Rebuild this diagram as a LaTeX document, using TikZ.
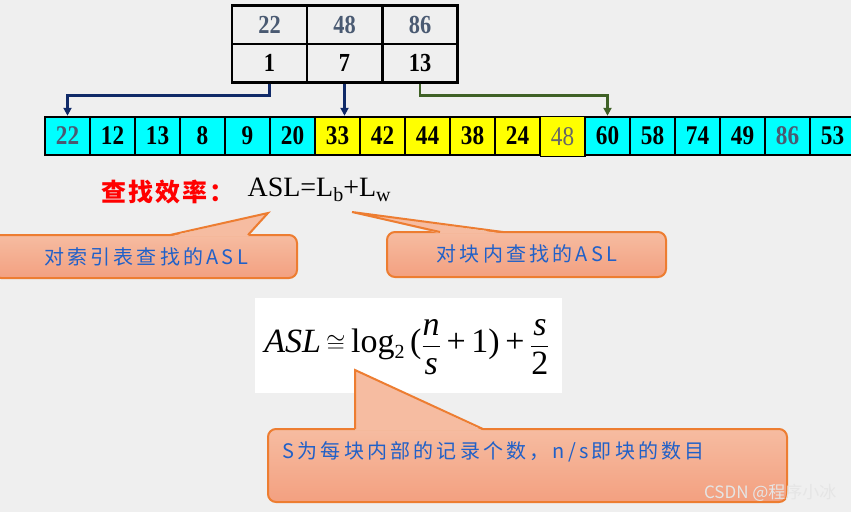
\documentclass[tikz,border=0pt]{standalone}
\usepackage{fontspec}
\setmainfont{Liberation Serif}
\newfontfamily\cjk{Noto Sans CJK SC}
\newfontfamily\cjkspaced[LetterSpace=16]{Noto Sans CJK SC}
\newfontfamily\cjkred[LetterSpace=8]{Noto Sans CJK SC}
\newfontfamily\numfont[FakeStretch=0.86]{Liberation Serif}
\usetikzlibrary{arrows.meta,calc}
\definecolor{bgc}{HTML}{EFEFEF}
\definecolor{cy}{HTML}{00FFFF}
\definecolor{ye}{HTML}{FFFF00}
\definecolor{slate}{HTML}{4A5A72}
\definecolor{grayt}{HTML}{666666}
\definecolor{navyl}{HTML}{102A68}
\definecolor{greenl}{HTML}{3F6126}
\definecolor{calltop}{HTML}{F6BCA1}
\definecolor{callbot}{HTML}{F3A080}
\definecolor{callline}{HTML}{ED7D31}
\definecolor{bluet}{HTML}{2060C8}
\definecolor{redt}{HTML}{FF0000}
\begin{document}
\begin{tikzpicture}[x=1pt,y=-1pt,
  cellbox/.style={draw, line width=2.5pt, minimum width=45, minimum height=38, inner sep=0pt,
    font=\numfont\fontsize{27}{27}\selectfont\bfseries},
  idxbox/.style={draw, line width=2.5pt, minimum width=75, minimum height=38.5, inner sep=0pt,
    font=\numfont\fontsize{26}{26}\selectfont\bfseries},
  callbox/.style={rounded corners=8pt, draw=callline, line width=2pt, top color=calltop, bottom color=callbot,
    inner sep=0pt},
  calltext/.style={text=bluet, font=\cjkspaced\fontsize{20}{20}\selectfont},
  ptr/.style={fill=calltop, draw=none},
  ptredge/.style={draw=callline, line width=2pt, line join=miter},
  conn/.style={line width=2.5pt, -{Triangle[width=8pt,length=8pt]}}
]
\fill[bgc] (0,0) rectangle (851,512);
\useasboundingbox (0,0) rectangle (851,512);

% index table
\node[idxbox, text=slate] (i22) at (269.5,24.5) {22};
\node[idxbox, text=slate] (i48) at (344.5,24.5) {48};
\node[idxbox, text=slate] (i86) at (420,24.5) {86};
\node[idxbox] (i1) at (269.5,63) {1};
\node[idxbox] (i7) at (344.5,63) {7};
\node[idxbox] (i13) at (420,63) {13};

% main array
\node[draw=black, line width=0.8pt, fill=ye, minimum width=45, minimum height=40, inner sep=0pt,
  text=grayt, font=\numfont\fontsize{27}{27}\selectfont] (a11) at (562.5,136.5) {48};
\foreach \k/\v/\c/\t in {0/22/cy/slate,1/12/cy/black,2/13/cy/black,3/8/cy/black,4/9/cy/black,5/20/cy/black,
  6/33/ye/black,7/42/ye/black,8/44/ye/black,9/38/ye/black,10/24/ye/black,
  12/60/cy/black,13/58/cy/black,14/74/cy/black,15/49/cy/black,16/86/cy/slate,17/53/cy/black}{
  \node[cellbox, fill=\c, text=\t] (a\k) at (67.5+45*\k,136) {\v};
}

% connectors
\draw[conn, navyl] (i1.south) -- ++(0,12) -| (a0.north);
\draw[conn, navyl] (i7.south) -- (i7.south |- a6.north);
\draw[conn, greenl] (i13.south) -- ++(0,12) -| (a12.north);

% headline
\node[anchor=west, text=redt, font=\cjkred\fontsize{25}{25}\selectfont\bfseries] (eff) at (98,192) {查找效率：};
\node[anchor=west, font=\fontsize{28}{28}\selectfont] (asl) at (244,190)
  {ASL=L\raisebox{-0.4ex}{\fontsize{20}{20}\selectfont b}+L\raisebox{-0.4ex}{\fontsize{20}{20}\selectfont w}};

% callout 1
\node[callbox, minimum width=304, minimum height=43] (c1) at (145,256.5) {};
\coordinate (p1) at (268,213);
\fill[ptr] (170,236.5) -- (p1) -- (248,236.5) -- cycle;
\draw[ptredge] (170,235) -- (p1) -- (248,235);
\node[calltext] (c1t) at (146,257) {对索引表查找的ASL};

% callout 2
\node[callbox, minimum width=279, minimum height=45] (c2) at (526.5,254.5) {};
\coordinate (p2) at (352,212);
\fill[ptr] (440,233.5) -- (p2) -- (503,233.5) -- cycle;
\draw[ptredge] (440,232) -- (p2) -- (503,232);
\node[calltext] (c2t) at (527,254) {对块内查找的ASL};

% formula
\fill[white] (255,298) rectangle (562,393);
\node (form) at (407,347) {\fontsize{34}{34}\selectfont\itshape ASL\/\hspace{5pt}\upshape$\cong$\,log\raisebox{-0.4ex}{\fontsize{20}{20}\selectfont 2}\,($\displaystyle\frac{\hbox{\itshape n}\rule[-5pt]{0pt}{0pt}}{\rule{0pt}{27pt}\hbox{\itshape s}}$\,+\,1)\,+\,$\displaystyle\frac{\hbox{\itshape s}\rule[-5pt]{0pt}{0pt}}{\rule{0pt}{27pt}\hbox{2}}$};

% callout 3
\node[callbox, minimum width=519, minimum height=73] (c3) at (527.5,465.5) {};
\coordinate (p3) at (355,370);
\fill[ptr] (355,430.5) -- (p3) -- (483,430.5) -- cycle;
\draw[ptredge] (355,429) -- (p3) -- (483,429);
\node[calltext, anchor=west, font=\cjkspaced\fontsize{20}{20}\selectfont] (c3t) at (279,452) {S为每块内部的记录个数，n/s即块的数目};

% watermark
\node[anchor=east, text=white!80!gray, font=\cjk\fontsize{17}{17}\selectfont] (wm) at (840,493) {CSDN @程序小冰};
\end{tikzpicture}
\end{document}
